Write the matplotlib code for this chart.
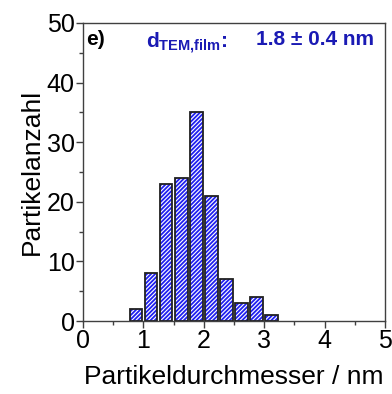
import matplotlib.pyplot as plt
from matplotlib.ticker import MultipleLocator

plt.rcParams['font.family'] = ['Liberation Sans', 'DejaVu Sans']
plt.rcParams['mathtext.fontset'] = 'custom'
plt.rcParams['mathtext.rm'] = 'Liberation Sans'
plt.rcParams['mathtext.bf'] = 'Liberation Sans:bold'
plt.rcParams['hatch.linewidth'] = 1.3

# histogram data (bin centres in nm, counts)
durchmesser = [0.875, 1.125, 1.375, 1.625, 1.875, 2.125, 2.375, 2.625, 2.875, 3.125]
anzahl = [2, 8, 23, 24, 35, 21, 7, 3, 4, 1]
breite = 0.21

fig = plt.figure(figsize=(3.92, 3.94), dpi=100)
ax = fig.add_axes([0.212, 0.185, 0.77, 0.757])

# blue/white stripes with a dark outline
ax.bar(durchmesser, anzahl, width=breite, color="white", edgecolor="#2020f0",
       hatch="////////", linewidth=0)
ax.bar(durchmesser, anzahl, width=breite, fill=False, edgecolor="#202020",
       linewidth=1.3)

ax.set_xlim(0, 5)
ax.set_ylim(0, 50)
ax.xaxis.set_major_locator(MultipleLocator(1))
ax.xaxis.set_minor_locator(MultipleLocator(0.5))
ax.yaxis.set_major_locator(MultipleLocator(10))
ax.yaxis.set_minor_locator(MultipleLocator(5))
ax.tick_params(which="both", direction="out", labelsize=18, width=1,
               color="#404040", pad=1)
ax.tick_params(which="major", length=5)
ax.tick_params(which="minor", length=3)
for s in ax.spines.values():
    s.set_color("#404040")
    s.set_linewidth(1)

ax.set_xlabel("Partikeldurchmesser / nm", fontsize=19, labelpad=8)
ax.set_ylabel("Partikelanzahl", fontsize=19, labelpad=2)

ax.text(0.01, 0.975, "e)", transform=ax.transAxes, fontsize=15,
        fontweight="bold", va="top")
ax.text(0.21, 0.975, r"d$_{\mathbf{TEM{,}film}}$:", transform=ax.transAxes,
        fontsize=15, fontweight="bold", color="#1a1ab4", va="top")
ax.text(0.965, 0.975, "1.8 ± 0.4 nm", transform=ax.transAxes, fontsize=15,
        fontweight="bold", color="#1a1ab4", va="top", ha="right")

fig.savefig("out.png", dpi=100)
